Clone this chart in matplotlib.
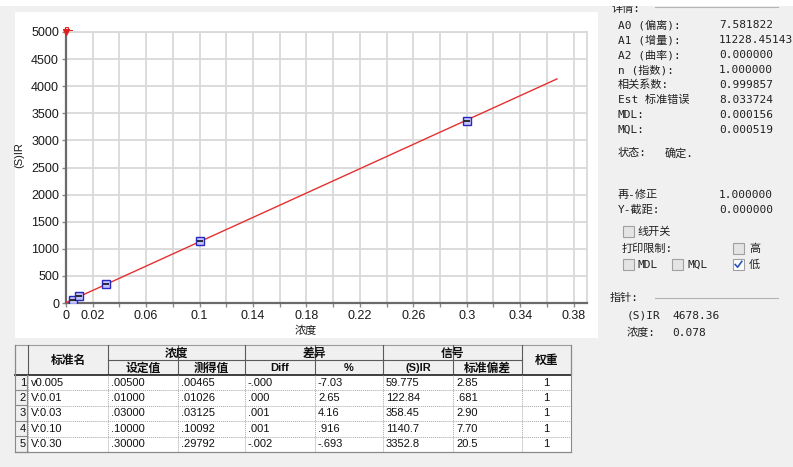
import numpy as np
import matplotlib.pyplot as plt
from matplotlib.patches import Rectangle

# calibration standards
std_names = ['v0.005', 'V:0.01', 'V:0.03', 'V:0.10', 'V:0.30']
conc_set = [0.005, 0.01, 0.03, 0.10, 0.30]
conc_meas = [0.00465, 0.01026, 0.03125, 0.10092, 0.29792]
diff_pct = [-7.03, 2.65, 4.16, 0.916, -0.693]
ir_signal = [59.775, 122.84, 358.45, 1140.7, 3352.8]
ir_sd = [2.85, 0.681, 2.90, 7.70, 20.5]
weights = [1, 1, 1, 1, 1]

# linear fit  y = a0 + a1 * x
a0 = 7.581822
a1 = 11228.45143
fit_x_max = 0.3675
fit_labels = ['A0 (偏离):', 'A1 (增量):', 'A2 (曲率):', 'n (指数):',
              '相关系数:', 'Est 标准错误', 'MDL:', 'MQL:']
fit_values = [f'{a0:.6f}', f'{a1:.5f}', '0.000000', '1.000000',
              '0.999857', '8.033724', '0.000156', '0.000519']

cursor_ir = '4678.36'
cursor_conc = '0.078'

MONO = ['DejaVu Sans Mono', 'Noto Sans CJK SC']
CJK = ['Noto Sans CJK SC', 'DejaVu Sans']
ARIAL = ['Liberation Sans', 'Noto Sans CJK SC']


def win_num(s):
    # drop the leading zero the way the table prints numbers
    if s.startswith('0.'):
        return s[1:]
    if s.startswith('-0.'):
        return '-' + s[2:]
    return s


fig = plt.figure(figsize=(7.93, 4.67), dpi=100)
fig.patch.set_facecolor('#f0f0f0')

# pixel-space layer for the window furniture
ui = fig.add_axes([0, 0, 1, 1], zorder=0)
ui.set_xlim(0, 793)
ui.set_ylim(467, 0)
ui.axis('off')

ui.add_patch(Rectangle((0, 0), 793, 6, fc='white', ec='none', zorder=5))
ui.add_patch(Rectangle((15, 12), 583, 326, fc='white', ec='none'))

# ---- chart ----
W, H = 793, 467
ax = fig.add_axes([66 / W, (H - 303) / H, 521 / W, 271 / H], zorder=1)
ax.set_facecolor('white')
ax.set_xlim(0, 0.39)
ax.set_ylim(0, 5000)

xt = np.round(np.arange(0, 0.381, 0.02), 2)
ax.set_xticks(xt)
ax.set_xticklabels([f'{v:g}' if (i == 0 or i % 2 == 1) else '' for i, v in enumerate(xt)])
ax.set_yticks(np.arange(0, 5001, 500))
ax.grid(True, color='#d9d9d9', lw=1.3)
ax.set_axisbelow(True)
for side in ('top', 'right'):
    ax.spines[side].set_color('#d9d9d9')
    ax.spines[side].set_linewidth(1.3)
for side in ('left', 'bottom'):
    ax.spines[side].set_color('#6a6a6a')
    ax.spines[side].set_linewidth(1.6)
ax.tick_params(length=3, width=1, color='#8a8a8a', labelsize=9, pad=2,
               labelcolor='#1a1a1a')
for lab in ax.get_xticklabels() + ax.get_yticklabels():
    lab.set_family(ARIAL)

fx = np.array([0, fit_x_max])
ax.plot(fx, a0 + a1 * fx, color='#e53030', lw=1.0, zorder=3)
ax.plot(conc_set, ir_signal, ls='none', marker='s', ms=5.5, mfc='#c4c4ff',
        mec='#2828c0', mew=1.0, zorder=4)
ax.plot(conc_set, ir_signal, ls='none', marker='_', ms=4, mec='#101010',
        mew=1.2, zorder=5)

# cursor marker at the top of the y axis
ax.plot([0], [5000], marker='v', ms=5, color='#e02020', clip_on=False, zorder=6)
ui.add_patch(Rectangle((65, 26.5), 3, 2.5, fc='none', ec='#e02020', lw=0.7, zorder=6))
ui.plot([68, 72], [29.5, 29.5], color='#e02020', lw=0.7, zorder=6)

ui.text(19, 155, '(S)IR', rotation=90, ha='center', va='center', fontsize=8,
        family=ARIAL, color='#1a1a1a')
ui.text(306, 331, '浓度', ha='center', va='center', fontsize=8, family=CJK,
        color='#1a1a1a')

# ---- right info panel ----
txt = dict(fontsize=8.0, family=MONO, color='#202020', va='center')
ui.text(612, 9, '详情:', zorder=4, **txt)
ui.plot([655, 778], [7, 7], color='#b4b4b4', lw=0.8, zorder=6)
for i, (lab, val) in enumerate(zip(fit_labels, fit_values)):
    y = 25 + 15 * i
    ui.text(618, y, lab, **txt)
    ui.text(719, y, val, **txt)
ui.text(618, 153, '状态:', **txt)
ui.text(665, 153, '确定.', **txt)

ui.text(618, 195, '再-修正', **txt)
ui.text(719, 195, '1.000000', **txt)
ui.text(618, 210, 'Y-截距:', **txt)
ui.text(719, 210, '0.000000', **txt)


def checkbox(x, y, checked=False):
    ui.add_patch(Rectangle((x, y), 11, 11, fc='white' if checked else '#e4e4e4',
                           ec='#a0a0a0', lw=0.8))
    if checked:
        ui.plot([x + 2.2, x + 4.6, x + 8.8], [y + 5.5, y + 8.2, y + 2.4],
                color='#2a52be', lw=1.2)


checkbox(623, 226)
ui.text(637, 231.5, '线开关', **txt)
ui.text(622, 249, '打印限制:', **txt)
checkbox(733, 243)
ui.text(749, 248.5, '高', **txt)
checkbox(623, 259)
ui.text(637, 265, 'MDL', **txt)
checkbox(672, 259)
ui.text(687, 265, 'MQL', **txt)
checkbox(733, 259, checked=True)
ui.text(749, 265, '低', **txt)

ui.text(610, 298, '指针:', **txt)
ui.plot([655, 778], [298, 298], color='#b4b4b4', lw=0.8)
ui.text(627, 316, '(S)IR', **txt)
ui.text(672, 316, cursor_ir, **txt)
ui.text(627, 333, '浓度:', **txt)
ui.text(672, 333, cursor_conc, **txt)

# ---- standards table ----
cols = [15, 28, 108, 178, 245, 315, 383, 453, 522, 571]
top, mid, head_bot = 345, 360, 375
row_h = 15.4
nrows = len(std_names)
bottom = head_bot + row_h * nrows

hfont = dict(fontsize=8.5, family=CJK, weight='bold', color='#101010',
             ha='center', va='center')
ui.add_patch(Rectangle((cols[0], top), cols[-1] - cols[0], head_bot - top,
                       fc='#f0f0f0', ec='none'))
ui.add_patch(Rectangle((cols[0], head_bot), cols[1] - cols[0], bottom - head_bot,
                       fc='#f0f0f0', ec='none'))
ui.add_patch(Rectangle((cols[1], head_bot), cols[-1] - cols[1], bottom - head_bot,
                       fc='white', ec='none'))

# header grid
dark = '#5a5a5a'
ui.plot([cols[0], cols[-1]], [top, top], color='#9a9a9a', lw=0.8)
for x in cols:
    ui.plot([x, x], [top, head_bot], color=dark, lw=0.8)
for a, b in [(2, 4), (4, 6), (6, 8)]:
    ui.plot([cols[a], cols[b]], [mid, mid], color=dark, lw=0.8)
ui.plot([cols[0], cols[-1]], [head_bot, head_bot], color='#303030', lw=1.3)

ui.text((cols[1] + cols[2]) / 2, (top + head_bot) / 2, '标准名', **hfont)
ui.text((cols[8] + cols[9]) / 2, (top + head_bot) / 2, '权重', **hfont)
for (a, b), grp in zip([(2, 4), (4, 6), (6, 8)], ['浓度', '差异', '信号']):
    ui.text((cols[a] + cols[b]) / 2, (top + mid) / 2 + 0.5, grp, **hfont)
sub_heads = ['设定值', '测得值', 'Diff', '%', '(S)IR', '标准偏差']
for k, s in enumerate(sub_heads):
    f = dict(hfont)
    if s.isascii():
        f['family'] = ARIAL
        f['fontsize'] = 8
    ui.text((cols[2 + k] + cols[3 + k]) / 2, (mid + head_bot) / 2 + 0.5, s, **f)

# body
cfont = dict(fontsize=8, family=ARIAL, color='#101010', va='center')
for r in range(nrows):
    y0 = head_bot + row_h * r
    yc = y0 + row_h / 2
    d = conc_meas[r] - conc_set[r]
    cells = [std_names[r],
             win_num(f'{conc_set[r]:.5f}'),
             win_num(f'{conc_meas[r]:.5f}'),
             win_num(f'{d:.3f}'),
             win_num(f'{diff_pct[r]:#.3g}'),
             win_num(f'{ir_signal[r]:#.5g}'),
             win_num(f'{ir_sd[r]:#.3g}')]
    for k, s in enumerate(cells):
        ui.text(cols[1 + k] + 3, yc, s, **cfont)
    ui.text((cols[8] + cols[9]) / 2, yc, str(weights[r]), ha='center', **cfont)
    ui.text(cols[1] - 2, yc, str(r + 1), ha='right', **cfont)
    # row header bevel
    ui.plot([cols[0] + 1, cols[1] - 1], [y0 + row_h - 0.5] * 2, color='#8a8a8a', lw=0.8)
    ui.plot([cols[1] - 0.8] * 2, [y0, y0 + row_h], color='#8a8a8a', lw=0.8)
    ui.plot([cols[1], cols[-1]], [y0 + row_h] * 2, color='#a8a8a8', lw=0.7, ls=(0, (1, 1)))

for x in cols[1:-1]:
    ui.plot([x, x], [head_bot, bottom], color='#a8a8a8', lw=0.7, ls=(0, (1, 1)))
ui.plot([cols[0], cols[0]], [top, bottom], color='#8a8a8a', lw=0.8)
ui.plot([cols[-1], cols[-1]], [top, bottom], color='#8a8a8a', lw=0.8)
ui.plot([cols[0], cols[-1]], [bottom, bottom], color='#8a8a8a', lw=0.9)

fig.savefig('out.png', dpi=100, facecolor=fig.get_facecolor())
